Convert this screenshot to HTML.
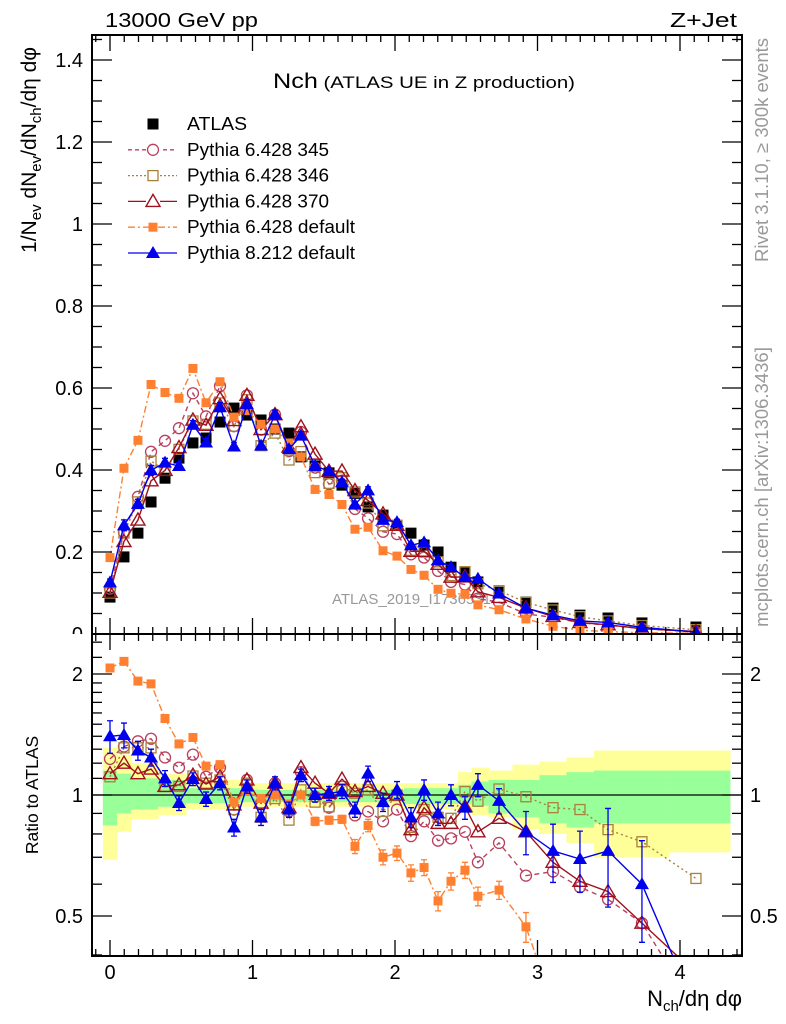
<!DOCTYPE html>
<html><head><meta charset="utf-8"><title>Nch ATLAS UE in Z production</title>
<style>
html,body{margin:0;padding:0;background:#fff;width:786px;height:1024px;overflow:hidden;}
svg{display:block;font-family:"Liberation Sans",Arial,sans-serif;overflow:hidden;}
</style></head>
<body>
<svg id="chart" width="786" height="1024" viewBox="0 0 786 1024" xmlns="http://www.w3.org/2000/svg">
<defs>
<clipPath id="clipMain"><rect x="92" y="35" width="650" height="599"/></clipPath>
<clipPath id="clipRatio"><rect x="92" y="635" width="650" height="321"/></clipPath>
<clipPath id="clipZero"><rect x="60" y="600" width="40" height="34"/></clipPath>
</defs>
<rect x="0" y="0" width="786" height="1024" fill="#fff"/>
<g id="ratioBands" clip-path="url(#clipRatio)"></g>
<text x="332" y="604" font-size="15" fill="#999">ATLAS_2019_I1736531</text>
<line x1="92" y1="795" x2="742" y2="795" stroke="#000" stroke-width="1.3"/>
<g id="mainSeries" clip-path="url(#clipMain)"></g>
<g id="ratioSeries" clip-path="url(#clipRatio)"></g>
<g id="axes"></g>

<text x="105" y="27" font-size="20" textLength="153" lengthAdjust="spacingAndGlyphs">13000 GeV pp</text>
<text x="670" y="27" font-size="20" textLength="67" lengthAdjust="spacingAndGlyphs">Z+Jet</text>
<text x="273" y="88" textLength="302" lengthAdjust="spacingAndGlyphs"><tspan font-size="21">Nch</tspan><tspan font-size="17"> (ATLAS UE in Z production)</tspan></text>
<text transform="translate(768,150) rotate(-90)" font-size="18.5" fill="#999" text-anchor="middle">Rivet 3.1.10, ≥ 300k events</text>
<text transform="translate(768,487) rotate(-90)" font-size="18.5" fill="#999" text-anchor="middle">mcplots.cern.ch [arXiv:1306.3436]</text>
<text transform="translate(36,150) rotate(-90)" font-size="21" text-anchor="middle">1/N<tspan font-size="15" dy="5">ev</tspan><tspan dy="-5"> dN</tspan><tspan font-size="15" dy="5">ev</tspan><tspan dy="-5">/dN</tspan><tspan font-size="15" dy="5">ch</tspan><tspan dy="-5">/dη dφ</tspan></text>
<text transform="translate(38,795) rotate(-90)" font-size="17.5" text-anchor="middle">Ratio to ATLAS</text>
<text x="742" y="1006" font-size="22" text-anchor="end">N<tspan font-size="15" dy="5">ch</tspan><tspan dy="-5">/dη dφ</tspan></text>
<g id="legend"></g>
</svg>
<script>
const xVals = [0,0.098,0.196,0.288,0.386,0.484,0.582,0.674,0.772,0.870,0.961,1.060,1.158,1.256,1.340,1.439,1.537,1.628,1.719,1.811,1.916,2.014,2.112,2.204,2.302,2.393,2.491,2.582,2.730,2.919,3.109,3.298,3.495,3.733,4.112];
const atlasVals = [0.090,0.188,0.246,0.322,0.380,0.429,0.466,0.478,0.517,0.551,0.534,0.522,0.500,0.490,0.432,0.410,0.393,0.363,0.343,0.310,0.290,0.265,0.246,0.217,0.200,0.163,0.149,0.127,0.102,0.078,0.063,0.046,0.039,0.027,0.017];
const ratio345 = [1.23,1.32,1.36,1.38,1.24,1.17,1.26,1.11,1.17,0.92,1.09,0.955,1.07,0.91,1.14,0.99,0.93,1.03,0.89,0.91,0.86,0.92,0.79,0.86,0.77,0.78,0.81,0.68,0.76,0.63,0.645,0.59,0.55,0.48,0.29];
const ratio346 = [1.11,1.31,1.31,1.31,1.05,1.05,1.115,1.07,1.09,0.92,1.07,0.88,0.98,0.866,1.03,0.96,0.935,1.05,1.01,1.03,0.91,1.0,0.83,0.92,0.88,0.875,1.02,0.965,1.035,0.99,0.93,0.92,0.82,0.765,0.62];
const ratio370 = [1.13,1.2,1.13,1.16,1.05,1.06,1.12,1.065,1.11,0.945,1.09,0.955,1.07,0.93,1.17,1.07,1.01,1.095,1.02,1.05,1.01,1.0,0.82,0.93,0.85,0.85,0.935,0.81,0.875,0.81,0.68,0.61,0.575,0.48,0.36];
const ratioDef6 = [2.07,2.15,1.92,1.89,1.55,1.34,1.39,1.18,1.19,0.96,1.02,0.98,1.0,0.95,1.0,0.86,0.866,0.87,0.745,0.84,0.70,0.717,0.64,0.66,0.545,0.61,0.65,0.56,0.58,0.47,0.30,0.20,0.15,0.12,0.10];
const ratioPy8 = [1.40,1.41,1.29,1.24,1.10,0.955,1.095,0.977,1.07,0.83,1.05,0.88,1.07,0.92,1.12,1.0,1.01,1.02,0.92,1.13,0.96,1.03,0.88,1.03,0.90,1.0,0.93,1.06,0.967,0.81,0.726,0.693,0.726,0.60,0.27];
const errPy8 = [0.13,0.10,0.07,0.06,0.05,0.04,0.04,0.04,0.04,0.04,0.04,0.04,0.04,0.04,0.04,0.04,0.04,0.04,0.04,0.05,0.05,0.05,0.05,0.06,0.06,0.06,0.06,0.07,0.07,0.10,0.12,0.12,0.20,0.17,0.1];
const errDef6 = [0.04,0.02,0.02,0.02,0.02,0.02,0.02,0.02,0.02,0.02,0.02,0.02,0.02,0.02,0.02,0.02,0.02,0.02,0.03,0.03,0.03,0.03,0.03,0.03,0.03,0.03,0.03,0.03,0.03,0.04,0.04,0.04,0.04,0.04,0.04];
const bandYellowUp = [1.31,1.26,1.2,1.2,1.13,1.13,1.09,1.09,1.09,1.09,1.07,1.07,1.07,1.07,1.07,1.07,1.07,1.07,1.07,1.07,1.07,1.07,1.07,1.07,1.07,1.07,1.14,1.17,1.15,1.19,1.21,1.24,1.29,1.29,1.29];
const bandYellowDn = [0.69,0.81,0.87,0.87,0.89,0.89,0.92,0.92,0.92,0.92,0.935,0.935,0.935,0.935,0.935,0.935,0.935,0.935,0.935,0.935,0.935,0.935,0.92,0.92,0.92,0.92,0.90,0.89,0.88,0.82,0.80,0.76,0.70,0.70,0.72];
const bandGreenUp = [1.15,1.13,1.1,1.1,1.09,1.09,1.04,1.04,1.04,1.04,1.03,1.03,1.03,1.03,1.03,1.03,1.03,1.03,1.03,1.03,1.03,1.03,1.04,1.04,1.04,1.04,1.06,1.08,1.09,1.09,1.12,1.14,1.15,1.15,1.15];
const bandGreenDn = [0.84,0.90,0.92,0.92,0.935,0.935,0.955,0.955,0.955,0.955,0.96,0.96,0.96,0.96,0.96,0.96,0.96,0.96,0.96,0.96,0.96,0.96,0.95,0.95,0.95,0.95,0.95,0.94,0.90,0.88,0.85,0.83,0.85,0.85,0.85];
const yMainTicks = ["0","0.2","0.4","0.6","0.8","1","1.2","1.4"];
const xTickLabels = ["0","1","2","3","4"];

const NS = "http://www.w3.org/2000/svg";
const X = v => 110 + v*142.5;
const YM = v => 634 - v*410;
const YR = r => 795 - 121*Math.log2(r);
function mk(tag, attrs, parent){ const e=document.createElementNS(NS,tag); for(const k in attrs) e.setAttribute(k,attrs[k]); parent.appendChild(e); return e; }

const gB = document.getElementById('ratioBands');
function edge(i){ if(i===0) return xVals[0]-0.05; if(i===xVals.length) return 4.35; return (xVals[i-1]+xVals[i])/2; }
for(let i=0;i<xVals.length;i++){
  const x0=X(edge(i)), x1=X(edge(i+1));
  const y = mk('rect',{x:x0,y:YR(bandYellowUp[i]),width:x1-x0+0.6,height:YR(bandYellowDn[i])-YR(bandYellowUp[i]),fill:'#ffff99'},gB);
  
  
  const g = mk('rect',{x:x0,y:YR(bandGreenUp[i]),width:x1-x0+0.6,height:YR(bandGreenDn[i])-YR(bandGreenUp[i]),fill:'#99ff99'},gB);
  
  
}

function marker(parent, kind, cx, cy, color){
  let e;
  const s=5.5;
  if(kind==='fsq') e=mk('rect',{x:cx-s,y:cy-s,width:2*s,height:2*s,fill:color},parent);
  else if(kind==='fsqs') e=mk('rect',{x:cx-4.5,y:cy-4.5,width:9,height:9,fill:color},parent);
  else if(kind==='osq') e=mk('rect',{x:cx-5,y:cy-5,width:10,height:10,fill:'none',stroke:color,'stroke-width':1.3},parent);
  else if(kind==='oci') e=mk('circle',{cx:cx,cy:cy,r:5.5,fill:'none',stroke:color,'stroke-width':1.3},parent);
  else if(kind==='otr') e=mk('polygon',{points:`${cx},${cy-7} ${cx-7},${cy+5} ${cx+7},${cy+5}`,fill:'none',stroke:color,'stroke-width':1.4},parent);
  else if(kind==='ftr') e=mk('polygon',{points:`${cx},${cy-7} ${cx-7},${cy+5} ${cx+7},${cy+5}`,fill:color},parent);
  return e;
}

const series = [
  {name:'pythia-6-428-345', ratio:ratio345, color:'#b8405e', dash:'5,4', kind:'oci', err:null},
  {name:'pythia-6-428-346', ratio:ratio346, color:'#a8803c', dash:'2,3', kind:'osq', err:null},
  {name:'pythia-6-428-370', ratio:ratio370, color:'#a0101c', dash:'', kind:'otr', err:null},
  {name:'pythia-6-428-default', ratio:ratioDef6, color:'#ff8030', dash:'7,3,2,3', kind:'fsqs', err:errDef6},
  {name:'pythia-8-212-default', ratio:ratioPy8, color:'#0000ee', dash:'', kind:'ftr', err:errPy8}
];

const gM = document.getElementById('mainSeries');
const gR = document.getElementById('ratioSeries');

for(let i=0;i<xVals.length;i++){
  const m = marker(gM,'fsq',X(xVals[i]),YM(atlasVals[i]),'#000');
  
  
}

series.forEach(s=>{
  const mainPts = xVals.map((x,i)=>[X(x), YM(s.ratio[i]*atlasVals[i])]);
  const ratPts = xVals.map((x,i)=>[X(x), YR(s.ratio[i])]);
  [[gM,mainPts,'main'],[gR,ratPts,'ratio']].forEach(([grp,pts,pn])=>{
    const g = mk('g',{},grp);
    
    
    const linePts = pts.map(p=>[p[0], Math.min(p[1],1010)]);
    const line = mk('polyline',{points:linePts.map(p=>p.join(',')).join(' '),fill:'none',stroke:s.color,'stroke-width':1.4,'stroke-dasharray':s.dash||'none'},g);
    
    
    pts.forEach((p,i)=>{
      if(p[1] > 962) return;
      if(s.err){
        let y1,y2;
        if(pn==='ratio'){ y1=YR(s.ratio[i]+s.err[i]); y2=Math.min(1000,YR(Math.max(0.05,s.ratio[i]-s.err[i]))); }
        else { const v=s.ratio[i]*atlasVals[i]; y1=YM(v*(1+s.err[i]*0.5)); y2=YM(v*(1-s.err[i]*0.5)); }
        const eb = mk('path',{d:`M${p[0]},${y1}V${y2}M${p[0]-3},${y1}H${p[0]+3}M${p[0]-3},${y2}H${p[0]+3}`,stroke:s.color,'stroke-width':1.3,fill:'none'},g);
        
        
      }
      const m = marker(g,s.kind,p[0],p[1],s.color);
      
      
    });
  });
});

const gA = document.getElementById('axes');
function ln(x1,y1,x2,y2,w){ const l=mk('line',{x1,y1,x2,y2,stroke:'#000','stroke-width':w||1.3},gA); return l; }
const fr1 = mk('rect',{x:92,y:35,width:650,height:599,fill:'none',stroke:'#000','stroke-width':2},gA);


const fr2 = mk('rect',{x:92,y:634,width:650,height:322,fill:'none',stroke:'#000','stroke-width':2},gA);


for(let k=-1;k<=44;k++){
  const v=k/10, x=X(v);
  if(x<93||x>741) continue;
  const major = k%10===0;
  const L = major?16:7;
  ln(x,35,x,35+L); ln(x,634,x,634-L); ln(x,634,x,634+L); ln(x,956,x,956-L);
}
xTickLabels.forEach((t,i)=>{
  const e=mk('text',{x:X(i),y:979,'font-size':20,'text-anchor':'middle'},gA);
  e.textContent=t;
  
  
});
for(let k=0;k<=29;k++){
  const v=k*0.05, y=YM(v);
  if(y<36) continue;
  const major = k%4===0;
  const L = major?20:10;
  ln(92,y,92+L,y); ln(742,y,742-L,y);
}
yMainTicks.forEach((t,i)=>{
  const v=i*0.2;
  const e=mk('text',{x:83,y:YM(v)+7,'font-size':20,'text-anchor':'end'},gA);
  if(i===0) e.setAttribute('clip-path','url(#clipZero)');
  e.textContent=t;
  
  
});
const rMinor=[0.4,0.6,0.7,0.8,0.9,1.1,1.2,1.3,1.4,1.5,1.6,1.7,1.8,1.9,2.2,2.4];
rMinor.forEach(r=>{ const y=YR(r); if(y>636&&y<955){ ln(92,y,102,y); ln(742,y,732,y);} });
[2,1,0.5].forEach(r=>{
  const y=YR(r); ln(92,y,112,y); ln(742,y,722,y);
  const t=(r===0.5?'0.5':String(r));
  const e1=mk('text',{x:83,y:y+7,'font-size':20,'text-anchor':'end'},gA); e1.textContent=t;
  
  
  const e2=mk('text',{x:750,y:y+7,'font-size':20},gA); e2.textContent=t;
  
  
});

const gL = document.getElementById('legend');
const legendRows = [
  {label:'ATLAS', color:'#000', kind:'fsq', dash:null, w:60},
  {label:'Pythia 6.428 345', color:'#b8405e', kind:'oci', dash:'4,3', w:142},
  {label:'Pythia 6.428 346', color:'#a8803c', kind:'osq', dash:'2,2', w:142},
  {label:'Pythia 6.428 370', color:'#a0101c', kind:'otr', dash:'', w:142},
  {label:'Pythia 6.428 default', color:'#ff8030', kind:'fsqs', dash:'7,3,2,3', w:168},
  {label:'Pythia 8.212 default', color:'#0000ee', kind:'ftr', dash:'', w:168}
];
legendRows.forEach((r,i)=>{
  const y = 124 + i*25.8;
  const g = mk('g',{},gL);
  
  
  if(r.dash!==null) mk('line',{x1:128,y1:y,x2:177,y2:y,stroke:r.color,'stroke-width':1.3,'stroke-dasharray':r.dash||'none'},g);
  if(r.dash!==null && r.kind!=='fsqs' && r.kind!=='ftr') mk('rect',{x:146,y:y-7,width:14,height:14,fill:'#fff'},g);
  marker(g,r.kind,153,y,r.color);
  const t = mk('text',{x:187,y:y+6,'font-size':18,textLength:r.w,lengthAdjust:'spacingAndGlyphs'},g);
  t.textContent = r.label;
});
</script>
</body></html>
